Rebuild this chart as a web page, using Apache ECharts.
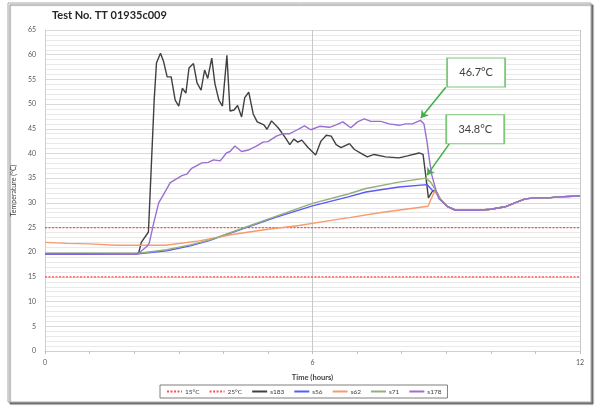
<!DOCTYPE html>
<html>
<head>
<meta charset="utf-8">
<script src="https://cdn.jsdelivr.net/npm/echarts@6/dist/echarts.min.js"></script>
<style>html,body{margin:0;padding:0;background:#fff}#c{width:600px;height:409px}</style>
</head>
<body>
<div id="c"></div>
<script>
// ---- data (time in hours, temperature in °C) ----
const title = 'Test No. TT 01935c009';
const legendNames = ['15°C', '25°C', 's183', 's56', 's62', 's71', 's178'];
const ref15 = [[0, 15], [12, 15]];
const ref25 = [[0, 25], [12, 25]];
const tail = [[8.87, 30.7], [9.02, 29.3], [9.21, 28.5], [9.5, 28.5], [9.73, 28.5], [10.0, 28.7], [10.32, 29.2], [10.54, 30.0], [10.77, 30.8], [10.99, 31.0], [11.29, 31.0], [11.51, 31.2], [12, 31.4]];
const s183 = [[0, 19.7], [1, 19.7], [2.0, 19.6], [2.1, 19.8], [2.16, 22.0], [2.32, 24.1], [2.45, 51], [2.5, 58.3], [2.59, 60.3], [2.66, 58.6], [2.74, 55.5], [2.83, 55.5], [2.92, 50.8], [3.0, 49.6], [3.08, 53.2], [3.16, 52.2], [3.23, 57.3], [3.33, 58.2], [3.41, 54.3], [3.5, 52.8], [3.58, 56.9], [3.65, 55.2], [3.74, 59.3], [3.81, 54.2], [3.9, 50.8], [3.98, 49.6], [4.08, 59.9], [4.15, 48.6], [4.24, 48.8], [4.32, 49.7], [4.41, 47.4], [4.48, 51.3], [4.57, 52.4], [4.67, 48.0], [4.76, 46.4], [4.91, 45.8], [4.98, 44.9], [5.08, 46.6], [5.23, 45.2], [5.39, 43.2], [5.49, 41.8], [5.58, 42.9], [5.67, 42.3], [5.76, 42.7], [5.9, 41.2], [6.07, 39.7], [6.19, 42.5], [6.31, 43.7], [6.42, 43.5], [6.53, 41.8], [6.64, 41.2], [6.83, 42.0], [6.94, 40.8], [7.09, 40.0], [7.23, 39.3], [7.38, 39.8], [7.64, 39.3], [7.94, 39.1], [8.13, 39.5], [8.39, 40.1], [8.48, 39.8], [8.54, 35.5], [8.6, 31.0], [8.7, 32.5], [8.78, 32.2]];
const s56 = [[0, 19.6], [1, 19.6], [2.1, 19.7], [2.14, 19.9], [2.73, 20.3], [3.26, 21.3], [3.7, 22.4], [4.45, 24.8], [5.19, 27.1], [6.0, 29.4], [6.8, 31.2], [7.2, 32.2], [7.94, 33.2], [8.57, 33.7], [8.68, 32.6], [8.78, 32.0]];
const s62 = [[0, 22.0], [0.5, 21.8], [1.0, 21.7], [1.6, 21.4], [2.0, 21.4], [2.7, 21.4], [3.46, 22.3], [4.2, 23.6], [4.96, 24.6], [5.7, 25.4], [6.45, 26.5], [6.83, 27.0], [7.5, 28.0], [8.59, 29.3], [8.74, 32.4]];
const s71 = [[0, 19.8], [1, 19.8], [2.1, 19.8], [2.14, 20.0], [2.73, 20.5], [3.26, 21.5], [3.7, 22.5], [4.45, 24.9], [5.19, 27.3], [6.0, 29.9], [6.8, 31.8], [7.2, 32.9], [7.94, 34.2], [8.54, 35.0], [8.65, 34.2], [8.76, 32.6]];
const s178 = [[0, 19.7], [1, 19.7], [2.0, 19.6], [2.1, 19.8], [2.29, 21.2], [2.34, 21.9], [2.44, 26.0], [2.55, 30.0], [2.66, 31.7], [2.81, 34.1], [3.07, 35.5], [3.18, 35.8], [3.29, 37.0], [3.52, 38.1], [3.66, 38.2], [3.78, 38.7], [3.93, 38.5], [4.07, 40.1], [4.15, 40.4], [4.26, 41.5], [4.41, 40.4], [4.56, 40.7], [4.74, 41.5], [4.89, 42.3], [5.0, 42.4], [5.19, 43.5], [5.34, 44.0], [5.49, 44.0], [5.64, 44.7], [5.82, 45.6], [5.96, 44.8], [6.16, 45.5], [6.38, 45.3], [6.53, 45.8], [6.68, 46.4], [6.86, 45.2], [7.01, 46.4], [7.16, 47.0], [7.31, 46.5], [7.53, 46.5], [7.72, 46.0], [7.94, 45.7], [8.09, 46.0], [8.24, 46.0], [8.42, 46.7], [8.5, 46.0], [8.57, 42.3], [8.63, 38.2], [8.68, 35.5], [8.76, 32.8], [8.83, 30.9]];
const peakLabels = ['46.7°C', '34.8°C'];
const labelBoxAt = [[9.67, 56.4], [9.65, 44.9]];
const arrowFrom = [[8.99, 53.4], [9.08, 42.1]];
const arrowTo = [[8.43, 47.2], [8.57, 35.6]];
const xTicks = {min: 0, max: 12, interval: 6};
const yTicks = {min: 0, max: 65, interval: 5};

const colors = ['#ff5050', '#ff5050', '#404040', '#5a5af5', '#f89a6c', '#93b07b', '#9a6fcf'];
const seriesData = [ref15, ref25, s183.concat(tail), s56.concat(tail), s62.concat(tail), s71.concat(tail), s178.concat(tail.slice(1))];

const font = 'Lato, "Open Sans", sans-serif';
const series = seriesData.map((d, i) => ({
  name: legendNames[i],
  type: 'line',
  data: d,
  showSymbol: false,
  symbol: 'none',
  animation: false,
  lineStyle: {color: colors[i], width: i < 2 ? 1.3 : 1.4, type: i < 2 ? [2, 1.5] : 'solid'},
  itemStyle: {color: colors[i]},
  z: 2 + i
}));
// annotations on the last series
series[6].markLine = {
  silent: true, animation: false,
  symbol: ['none', 'arrow'], symbolSize: 7,
  label: {show: false},
  lineStyle: {color: '#3cb043', width: 1.5, type: 'solid'},
  data: arrowFrom.map((f, i) => [{coord: f}, {coord: arrowTo[i]}])
};
series[6].markPoint = {
  silent: true, animation: false,
  symbol: 'rect', symbolSize: [58, 29],
  itemStyle: {color: '#fff', borderColor: '#7dc87a', borderWidth: 1.3},
  label: {show: true, position: 'inside', color: '#404040', fontSize: 11, fontFamily: font},
  data: labelBoxAt.map((c, i) => ({coord: c, value: peakLabels[i], label: {formatter: peakLabels[i]}}))
};

const chart = echarts.init(document.getElementById('c'), null, {renderer: 'canvas'});
chart.setOption({
  backgroundColor: '#fff',
  animation: false,
  textStyle: {fontFamily: font},
  graphic: [{
    type: 'rect', z: -10, silent: true,
    shape: {x: 8, y: 3, width: 583, height: 399},
    style: {fill: '#fff', stroke: '#a9a9a9', lineWidth: 1, shadowColor: 'rgba(90,90,90,0.8)', shadowOffsetX: 2, shadowOffsetY: 2, shadowBlur: 1}
  }],
  title: {
    text: title, left: 52, top: 10, padding: 0,
    textStyle: {fontSize: 11, fontWeight: 'bold', color: '#262626', fontFamily: font}
  },
  legend: {
    data: legendNames,
    left: 160, top: 385,
    padding: [3, 6],
    itemWidth: 15, itemHeight: 6, itemGap: 9,
    itemStyle: {opacity: 0},
    borderColor: '#7f7f7f', borderWidth: 1,
    textStyle: {fontSize: 6.5, color: '#404040', fontFamily: font, padding: [0, 0, 0, -2]}
  },
  grid: {left: 45, right: 20, top: 30, bottom: 58, containLabel: false},
  xAxis: {
    type: 'value', min: xTicks.min, max: xTicks.max, interval: xTicks.interval,
    name: 'Time (hours)', nameLocation: 'middle', nameGap: 23,
    nameTextStyle: {fontSize: 7.5, fontWeight: 'bold', color: '#404040'},
    axisLine: {show: true, lineStyle: {color: '#d0d0d0'}},
    axisTick: {show: true, length: 3, lineStyle: {color: '#c0c0c0'}},
    minorTick: {show: true, splitNumber: 6, length: 3, lineStyle: {color: '#c0c0c0'}},
    axisLabel: {fontSize: 7, color: '#595959', margin: 8},
    splitLine: {show: true, lineStyle: {color: '#c8c8c8', width: 1}}
  },
  yAxis: {
    type: 'value', min: yTicks.min, max: yTicks.max, interval: yTicks.interval,
    name: 'Temperature (°C)', nameLocation: 'middle', nameGap: 20,
    nameTextStyle: {fontSize: 7, color: '#404040'},
    axisLine: {show: true, lineStyle: {color: '#d0d0d0'}},
    axisTick: {show: false},
    axisLabel: {fontSize: 7, color: '#595959', margin: 9},
    splitLine: {show: true, lineStyle: {color: '#d9d9d9', width: 1}},
    minorTick: {show: false, splitNumber: 5},
    minorSplitLine: {show: true, lineStyle: {color: '#e9e9e9', width: 1}}
  },
  series: series
});
</script>
</body>
</html>
